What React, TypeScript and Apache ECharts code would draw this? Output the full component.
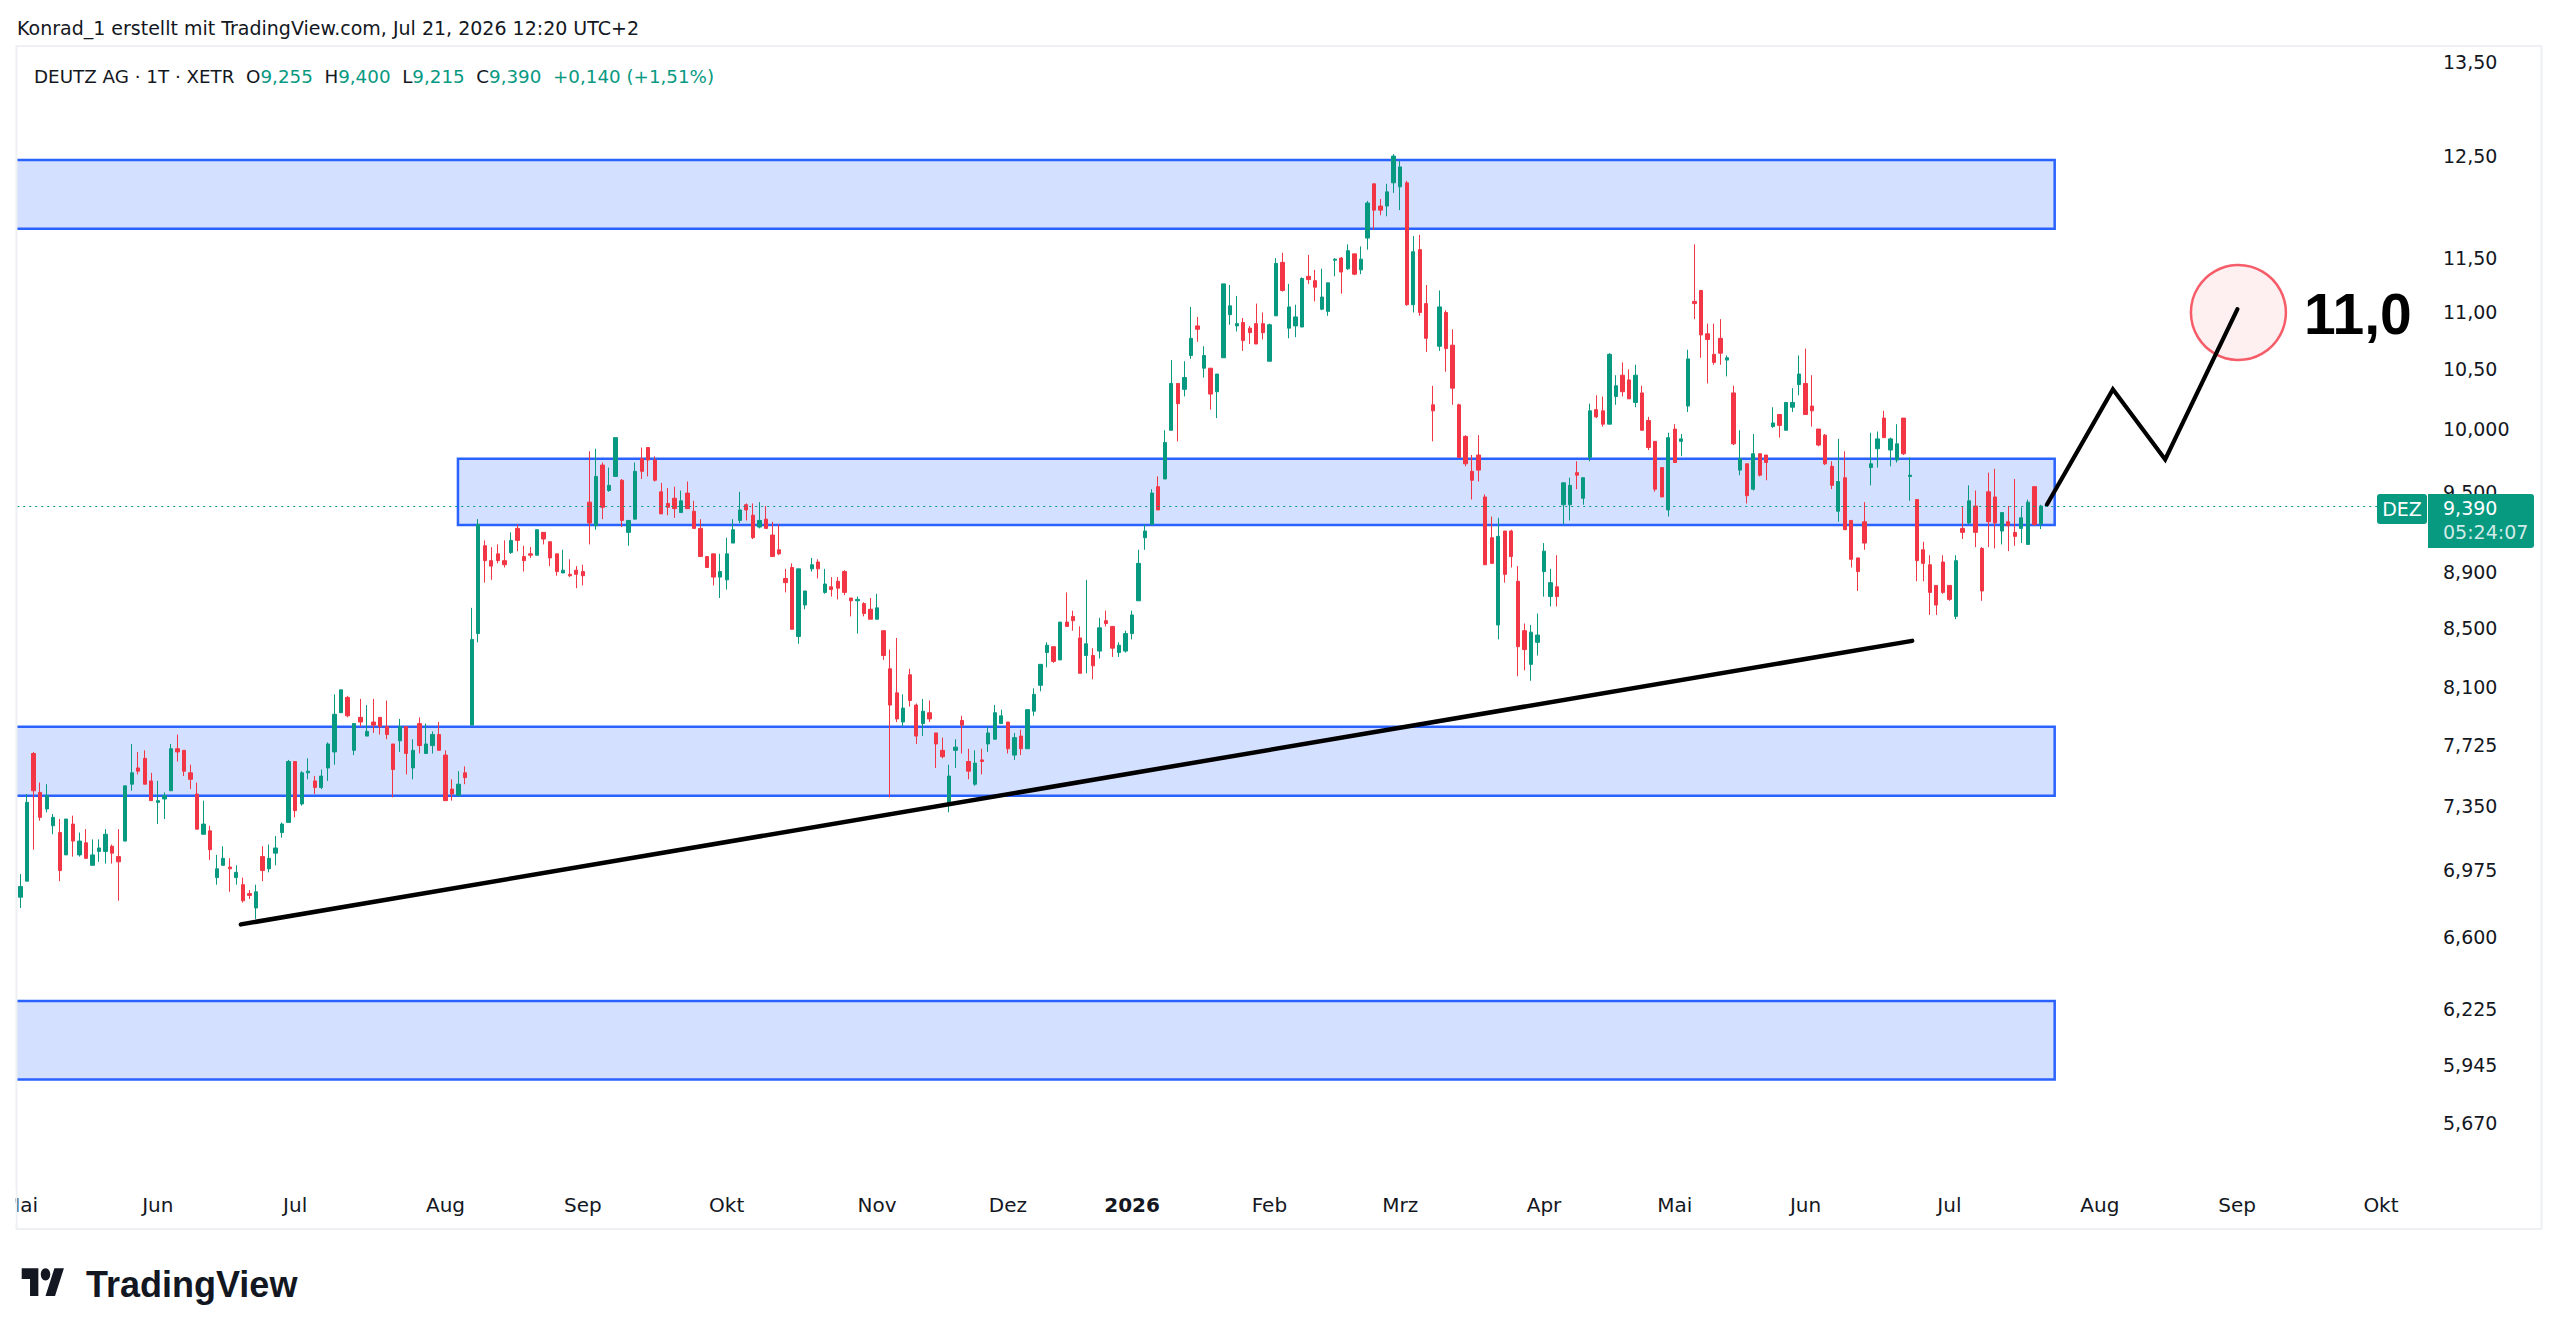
import React, { useEffect, useRef } from 'react';
import * as echarts from 'echarts';

// ---------- calendar (Xetra sessions) ----------
const firstSession = '2025-05-02';
const sessionCount = 369;
const holidays = ['2025-12-24', '2025-12-25', '2025-12-26', '2025-12-31', '2026-01-01', '2026-04-03', '2026-04-06', '2026-05-01'];
const monthNames = ['Jan', 'Feb', 'Mrz', 'Apr', 'Mai', 'Jun', 'Jul', 'Aug', 'Sep', 'Okt', 'Nov', 'Dez'];

// ---------- daily candles [open, high, low, close] ----------
const ohlcMayJul2025 = [
  [6.82, 6.95, 6.76, 6.88], [6.91, 7.42, 6.91, 7.37], [7.67, 7.68, 7.09, 7.44], [7.43, 7.49, 7.26, 7.28], [7.33, 7.48, 7.31, 7.41],
  [7.23, 7.30, 7.18, 7.28], [7.19, 7.27, 6.91, 6.97], [7.06, 7.27, 7.06, 7.27], [7.24, 7.29, 7.05, 7.14], [7.06, 7.19, 7.05, 7.14],
  [7.13, 7.21, 7.04, 7.04], [7.00, 7.15, 7.00, 7.06], [7.08, 7.15, 7.02, 7.10], [7.08, 7.21, 7.01, 7.18], [7.11, 7.12, 7.01, 7.07],
  [7.05, 7.21, 6.80, 7.02], [7.14, 7.47, 7.14, 7.47], [7.48, 7.73, 7.44, 7.55], [7.58, 7.68, 7.54, 7.56], [7.64, 7.69, 7.48, 7.48],
  [7.50, 7.55, 7.38, 7.38], [7.37, 7.50, 7.24, 7.38], [7.39, 7.43, 7.27, 7.41], [7.44, 7.73, 7.44, 7.70], [7.70, 7.79, 7.62, 7.68],
  [7.69, 7.69, 7.53, 7.56], [7.55, 7.60, 7.45, 7.51], [7.42, 7.49, 7.21, 7.21], [7.18, 7.38, 7.18, 7.24], [7.20, 7.23, 7.03, 7.09],
  [6.93, 7.06, 6.89, 6.98], [7.00, 7.11, 7.00, 7.04], [6.99, 7.04, 6.85, 6.98], [6.93, 7.00, 6.89, 6.96], [6.89, 6.93, 6.79, 6.80],
  [6.84, 6.86, 6.81, 6.83], [6.76, 6.89, 6.70, 6.85], [7.05, 7.11, 6.91, 6.97], [6.98, 7.12, 6.96, 7.04], [7.07, 7.17, 7.00, 7.10],
  [7.19, 7.25, 7.16, 7.24], [7.25, 7.63, 7.25, 7.62], [7.62, 7.62, 7.28, 7.32], [7.36, 7.56, 7.35, 7.55], [7.55, 7.64, 7.51, 7.56],
  [7.50, 7.53, 7.42, 7.46], [7.46, 7.57, 7.45, 7.53], [7.58, 7.74, 7.50, 7.73], [7.68, 8.05, 7.60, 7.92], [7.93, 8.08, 7.93, 8.08],
  [8.03, 8.04, 7.90, 7.91], [7.69, 7.86, 7.66, 7.86], [7.90, 8.02, 7.84, 7.87], [7.78, 7.98, 7.78, 7.81], [7.87, 8.02, 7.80, 7.85],
  [7.90, 7.90, 7.79, 7.84], [7.84, 8.01, 7.76, 7.79], [7.73, 7.73, 7.40, 7.57], [7.75, 7.89, 7.68, 7.84], [7.84, 7.84, 7.54, 7.67],
  [7.58, 7.76, 7.51, 7.69], [7.86, 7.90, 7.67, 7.72], [7.67, 7.86, 7.67, 7.73], [7.72, 7.81, 7.67, 7.79], [7.79, 7.87, 7.69, 7.69],
];
const ohlcAugOct2025 = [
  [7.66, 7.69, 7.38, 7.38], [7.45, 7.51, 7.38, 7.42], [7.41, 7.56, 7.41, 7.48], [7.55, 7.59, 7.48, 7.52], [7.85, 8.64, 7.85, 8.42],
  [8.46, 9.29, 8.40, 9.25], [9.09, 9.13, 8.82, 8.98], [8.98, 9.08, 8.84, 8.94], [9.03, 9.10, 8.96, 8.98], [8.98, 9.13, 8.93, 8.95],
  [9.04, 9.19, 9.03, 9.13], [9.22, 9.25, 9.05, 9.13], [9.01, 9.09, 8.90, 8.98], [9.03, 9.08, 9.00, 9.02], [9.02, 9.21, 9.02, 9.21],
  [9.19, 9.19, 9.10, 9.14], [9.12, 9.12, 8.94, 9.00], [9.03, 9.03, 8.87, 8.90], [8.89, 9.06, 8.89, 8.91], [8.88, 8.99, 8.86, 8.87],
  [8.91, 8.94, 8.78, 8.88], [8.90, 8.95, 8.80, 8.87], [9.42, 9.82, 9.10, 9.26], [9.24, 9.84, 9.21, 9.62], [9.71, 9.73, 9.29, 9.38],
  [9.51, 9.69, 9.50, 9.55], [9.62, 9.93, 9.62, 9.93], [9.59, 9.60, 9.23, 9.28], [9.19, 9.28, 9.09, 9.28], [9.29, 9.73, 9.29, 9.66],
  [9.76, 9.85, 9.60, 9.66], [9.85, 9.85, 9.62, 9.75], [9.75, 9.78, 9.58, 9.59], [9.50, 9.57, 9.33, 9.33], [9.41, 9.53, 9.32, 9.38],
  [9.45, 9.54, 9.30, 9.37], [9.34, 9.51, 9.34, 9.43], [9.49, 9.58, 9.37, 9.37], [9.35, 9.43, 9.22, 9.22], [9.22, 9.29, 9.01, 9.01],
  [9.01, 9.01, 8.93, 8.93], [9.03, 9.03, 8.80, 8.86], [8.86, 9.03, 8.71, 8.90], [8.84, 9.15, 8.77, 9.03], [9.11, 9.29, 9.11, 9.21],
  [9.28, 9.50, 9.26, 9.36], [9.40, 9.41, 9.28, 9.36], [9.32, 9.41, 9.14, 9.15], [9.23, 9.42, 9.22, 9.28], [9.29, 9.39, 9.22, 9.22],
  [9.17, 9.27, 9.01, 9.01], [9.06, 9.25, 9.02, 9.03], [8.85, 8.92, 8.75, 8.82], [8.93, 8.96, 8.49, 8.49], [8.44, 8.92, 8.39, 8.92],
  [8.66, 8.76, 8.63, 8.76], [8.92, 9.00, 8.90, 8.95], [8.97, 8.99, 8.85, 8.92], [8.75, 8.92, 8.74, 8.81], [8.79, 8.86, 8.72, 8.77],
  [8.83, 8.86, 8.70, 8.78], [8.90, 8.91, 8.73, 8.75], [8.71, 8.71, 8.58, 8.69], [8.69, 8.72, 8.46, 8.70], [8.67, 8.68, 8.58, 8.60],
  [8.63, 8.71, 8.56, 8.56],
];
const ohlcNovJan = [
  [8.56, 8.74, 8.56, 8.64], [8.48, 8.48, 8.28, 8.31], [8.22, 8.35, 7.40, 7.98], [8.06, 8.43, 7.87, 7.89], [7.87, 8.05, 7.84, 7.96],
  [8.18, 8.22, 7.97, 8.01], [7.98, 7.99, 7.73, 7.78], [7.86, 8.02, 7.78, 7.94], [7.93, 8.01, 7.87, 7.89], [7.80, 7.80, 7.58, 7.73],
  [7.69, 7.77, 7.64, 7.65], [7.36, 7.60, 7.31, 7.53], [7.69, 7.76, 7.58, 7.71], [7.88, 7.91, 7.67, 7.85], [7.62, 7.70, 7.51, 7.56],
  [7.48, 7.69, 7.47, 7.61], [7.63, 7.70, 7.54, 7.62], [7.73, 7.84, 7.68, 7.80], [7.76, 7.98, 7.76, 7.93], [7.86, 7.95, 7.86, 7.91],
  [7.87, 7.87, 7.67, 7.70], [7.66, 7.80, 7.63, 7.77], [7.78, 7.82, 7.66, 7.70], [7.70, 7.95, 7.70, 7.95], [7.94, 8.09, 7.91, 8.05],
  [8.11, 8.25, 8.07, 8.25], [8.33, 8.40, 8.23, 8.38], [8.37, 8.37, 8.26, 8.27], [8.28, 8.54, 8.28, 8.54], [8.54, 8.75, 8.51, 8.51],
  [8.58, 8.62, 8.48, 8.55], [8.43, 8.51, 8.19, 8.19], [8.31, 8.84, 8.19, 8.39], [8.31, 8.36, 8.15, 8.24], [8.34, 8.57, 8.29, 8.50],
  [8.55, 8.62, 8.51, 8.53], [8.51, 8.51, 8.30, 8.36], [8.33, 8.40, 8.30, 8.38], [8.34, 8.48, 8.33, 8.46], [8.46, 8.62, 8.42, 8.59],
  [8.69, 9.06, 8.69, 8.96], [9.15, 9.25, 9.06, 9.20], [9.25, 9.52, 9.25, 9.49], [9.54, 9.62, 9.36, 9.36], [9.60, 9.99, 9.60, 9.89],
  [9.99, 10.58, 9.99, 10.38], [10.38, 10.38, 9.90, 10.21], [10.33, 10.57, 10.27, 10.43], [10.62, 11.05, 10.59, 10.77], [10.88, 10.96, 10.74, 10.85],
  [10.51, 10.70, 10.43, 10.62], [10.51, 10.51, 10.16, 10.29], [10.31, 10.46, 10.09, 10.46], [10.60, 11.26, 10.60, 11.26], [10.98, 11.25, 10.89, 11.06],
  [10.88, 11.15, 10.83, 10.90], [10.91, 10.95, 10.66, 10.75], [10.86, 10.88, 10.72, 10.82], [10.90, 11.08, 10.72, 10.72], [10.90, 11.00, 10.76, 10.82],
];
const ohlcFebApr2026 = [
  [10.57, 10.90, 10.57, 10.89], [10.97, 11.50, 10.97, 11.45], [11.46, 11.55, 11.19, 11.20], [10.86, 11.26, 10.77, 11.05], [10.88, 11.07, 10.78, 10.96],
  [10.87, 11.32, 10.87, 11.31], [11.33, 11.53, 11.26, 11.30], [11.29, 11.39, 11.10, 11.23], [11.03, 11.40, 11.02, 11.14], [11.01, 11.27, 10.97, 11.27],
  [11.48, 11.50, 11.33, 11.49], [11.50, 11.51, 11.17, 11.37], [11.40, 11.63, 11.39, 11.57], [11.54, 11.54, 11.34, 11.35], [11.39, 11.61, 11.35, 11.49],
  [11.69, 12.05, 11.58, 12.03], [12.22, 12.22, 11.77, 11.96], [12.00, 12.07, 11.91, 11.96], [12.00, 12.22, 11.90, 12.14], [12.23, 12.52, 12.13, 12.50],
  [12.19, 12.45, 11.96, 12.39], [12.23, 12.25, 11.06, 11.07], [11.07, 11.71, 11.00, 11.56], [11.58, 11.72, 10.97, 11.00], [11.08, 11.25, 10.65, 10.77],
  [10.20, 10.36, 9.90, 10.15], [10.70, 11.20, 10.66, 11.05], [11.00, 11.02, 10.48, 10.68], [10.71, 10.85, 10.20, 10.34], [10.20, 10.21, 9.77, 9.77],
  [9.94, 9.95, 9.70, 9.72], [9.66, 9.79, 9.44, 9.59], [9.79, 9.95, 9.58, 9.67], [9.46, 9.48, 8.95, 8.95], [9.15, 9.31, 8.96, 8.96],
  [8.52, 9.30, 8.42, 9.16], [9.20, 9.20, 8.82, 8.88], [9.20, 9.21, 8.93, 9.01], [8.83, 8.94, 8.17, 8.37], [8.48, 8.53, 8.21, 8.35],
  [8.25, 8.52, 8.14, 8.47], [8.40, 8.60, 8.31, 8.45], [8.90, 9.11, 8.72, 9.05], [8.72, 8.92, 8.65, 8.82], [8.79, 9.02, 8.65, 8.72],
  [9.40, 9.57, 9.25, 9.57], [9.40, 9.61, 9.28, 9.55], [9.65, 9.74, 9.52, 9.63], [9.45, 9.61, 9.40, 9.61], [9.77, 10.21, 9.74, 10.15],
  [10.16, 10.28, 10.09, 10.10], [10.15, 10.27, 10.02, 10.04], [10.04, 10.64, 10.04, 10.63], [10.27, 10.45, 10.20, 10.36], [10.45, 10.56, 10.27, 10.31],
  [10.41, 10.50, 10.25, 10.25], [10.22, 10.54, 10.18, 10.45], [10.30, 10.36, 9.99, 9.99], [10.07, 10.10, 9.83, 9.85], [9.90, 9.90, 9.50, 9.52],
  [9.69, 9.69, 9.46, 9.46], [9.36, 9.97, 9.31, 9.93],
];
const ohlcMayJul2026 = [
  [10.00, 10.04, 9.73, 9.73], [9.90, 9.96, 9.78, 9.92], [10.19, 10.67, 10.14, 10.59], [11.10, 11.63, 10.94, 11.08], [11.20, 11.20, 10.60, 10.80],
  [10.81, 10.90, 10.38, 10.76], [10.63, 10.90, 10.54, 10.56], [10.77, 10.94, 10.54, 10.64], [10.58, 10.62, 10.44, 10.60], [10.30, 10.36, 9.87, 9.88],
  [9.67, 9.99, 9.63, 9.76], [9.72, 9.72, 9.41, 9.47], [9.52, 9.96, 9.51, 9.80], [9.80, 9.80, 9.62, 9.63], [9.79, 9.79, 9.59, 9.73],
  [10.02, 10.18, 10.01, 10.05], [10.12, 10.12, 9.93, 10.03], [9.99, 10.22, 9.99, 10.22], [10.18, 10.34, 10.14, 10.22], [10.37, 10.62, 10.28, 10.46],
  [10.38, 10.68, 10.12, 10.12], [10.19, 10.45, 10.02, 10.15], [10.00, 10.00, 9.86, 9.87], [9.95, 9.96, 9.71, 9.72], [9.70, 9.74, 9.52, 9.55],
  [9.35, 9.92, 9.27, 9.58], [9.61, 9.82, 9.21, 9.21], [9.28, 9.28, 8.93, 8.99], [9.00, 9.00, 8.76, 8.90], [9.27, 9.42, 9.06, 9.11],
  [9.69, 9.97, 9.55, 9.72], [9.84, 9.98, 9.69, 9.92], [10.09, 10.15, 9.93, 9.93], [9.83, 9.93, 9.70, 9.92], [9.75, 10.04, 9.73, 9.88],
  [10.09, 10.09, 9.79, 9.80], [9.62, 9.77, 9.43, 9.63], [9.44, 9.44, 8.83, 8.98], [9.06, 9.12, 8.83, 8.96], [8.95, 9.02, 8.59, 8.75],
  [8.80, 8.80, 8.59, 8.66], [8.97, 9.02, 8.74, 8.75], [8.80, 8.80, 8.69, 8.70], [8.58, 9.02, 8.56, 8.98], [9.22, 9.39, 9.14, 9.19],
  [9.26, 9.55, 9.25, 9.43], [9.39, 9.51, 9.08, 9.19], [9.07, 9.08, 8.69, 8.76], [9.50, 9.65, 9.08, 9.27], [9.46, 9.68, 9.07, 9.26],
  [9.20, 9.34, 9.10, 9.34], [9.27, 9.39, 9.05, 9.24], [9.19, 9.60, 9.09, 9.16], [9.22, 9.38, 9.11, 9.30], [9.10, 9.44, 9.10, 9.42],
  [9.54, 9.54, 9.24, 9.25], [9.255, 9.40, 9.215, 9.39],
];

// ---------- price scale ticks ----------
const priceTicks = [13.5, 12.5, 11.5, 11.0, 10.5, 10.0, 9.5, 8.9, 8.5, 8.1, 7.725, 7.35, 6.975, 6.6, 6.225, 5.945, 5.67];
const priceTickLabels = ['13,50', '12,50', '11,50', '11,00', '10,50', '10,000', '9,500', '8,900', '8,500', '8,100', '7,725', '7,350', '6,975', '6,600', '6,225', '5,945', '5,670'];

// ---------- drawings (session index, price) ----------
// zones: [fromSession, toSession, upperPrice, lowerPrice, extendsPastLeftEdge]
const zones = [
  [-6, 311.1, 12.46, 11.78, 1],
  [66.9, 311.1, 9.76, 9.246, 0],
  [-6, 311.1, 7.84, 7.41, 1],
  [-6, 311.1, 6.265, 5.875, 1],
];
const trendLine = [[33.7, 6.67], [289.3, 8.41]];
const projectionPath = [[309.9, 9.40], [320.0, 10.33], [328.0, 9.755], [339.05, 11.03]];
const targetPoint = [339.2, 11.0];
const targetLabel = '11,0';

const headerText = 'Konrad_1 erstellt mit TradingView.com, Jul 21, 2026 12:20 UTC+2';
const symbolTitle = 'DEUTZ AG · 1T · XETR';
const countdown = '05:24:07';
const exchangeTag = 'DEZ';

const GREEN = '#089981';
const RED = '#F23645';
const INK = '#131722';
const FONT = 'DejaVu Sans';
const TARGET_RADIUS = 47.5;

const TV_LOGO_PATH = 'M14 22H7V11H0V4h14v18zM28 22h-8l7.5-18h8L28 22z';
echarts.graphic.registerShape('tvlogo', echarts.graphic.extendPath(TV_LOGO_PATH, {}));

function buildSessions(): string[] {
  const out: string[] = [];
  const [y, m, d] = firstSession.split('-').map(Number);
  const dt = new Date(Date.UTC(y, m - 1, d));
  while (out.length < sessionCount) {
    const wd = dt.getUTCDay();
    const iso = dt.toISOString().slice(0, 10);
    if (wd !== 0 && wd !== 6 && holidays.indexOf(iso) < 0) out.push(iso);
    dt.setUTCDate(dt.getUTCDate() + 1);
  }
  return out;
}

const de = (v: number, digits: number) => v.toFixed(digits).replace('.', ',');

export default function App() {
  const ref = useRef<HTMLDivElement>(null);

  useEffect(() => {
    if (!ref.current) return;
    const chart = echarts.init(ref.current, undefined, { renderer: 'svg' });
    const sessions = buildSessions();
    const ohlc = [...ohlcMayJul2025, ...ohlcAugOct2025, ...ohlcNovJan, ...ohlcFebApr2026, ...ohlcMayJul2026];
    const candles = ohlc.map(([o, h, l, c]) => [o, c, l, h]);
    const last = ohlc[ohlc.length - 1];
    const prevClose = ohlc[ohlc.length - 2][3];
    const lastClose = last[3];
    const change = lastClose - prevClose;
    const pct = (change / prevClose) * 100;

    const option: any = {
      animation: false,
      backgroundColor: '#ffffff',
      textStyle: { fontFamily: FONT },
      grid: { left: 16, top: 35.1, width: 2414, height: 1149.9 },
      xAxis: [
        {
          type: 'category',
          data: sessions,
          boundaryGap: true,
          axisLine: { show: false },
          axisTick: { show: false },
          splitLine: { show: false },
          axisLabel: {
            interval: (i: number) => i === 0 || sessions[i].slice(0, 7) !== sessions[i - 1].slice(0, 7),
            formatter: (v: string) => {
              const m = Number(v.slice(5, 7)) - 1;
              return m === 0 ? `{y|${v.slice(0, 4)}}` : monthNames[m];
            },
            color: INK,
            fontSize: 20,
            fontFamily: FONT,
            margin: 10,
            rich: { y: { fontWeight: 'bold', fontSize: 20, fontFamily: FONT, color: INK } },
          },
        },
        { type: 'value', min: -0.5, max: sessionCount - 0.5, show: false },
      ],
      yAxis: [
        {
          type: 'log',
          logBase: 10,
          min: 5.39,
          max: 13.8,
          position: 'right',
          axisLine: { show: false },
          axisTick: { show: false },
          splitLine: { show: false },
          axisLabel: {
            customValues: priceTicks,
            formatter: (v: number) => {
              let best = 0;
              for (let i = 1; i < priceTicks.length; i++) {
                if (Math.abs(priceTicks[i] - v) < Math.abs(priceTicks[best] - v)) best = i;
              }
              return priceTickLabels[best];
            },
            color: INK,
            fontSize: 19,
            fontFamily: FONT,
            margin: 13,
            align: 'left',
          },
        },
      ],
      series: [
        {
          type: 'custom',
          name: 'zones',
          xAxisIndex: 1,
          yAxisIndex: 0,
          clip: true,
          silent: true,
          z: 1,
          encode: { x: [0, 1], y: [2, 3] },
          data: zones,
          renderItem: (params: any, api: any) => {
            const p0 = api.coord([api.value(0), api.value(2)]);
            const p1 = api.coord([api.value(1), api.value(3)]);
            const openLeft = api.value(4) === 1;
            const shape = { x: p0[0], y: p0[1], width: p1[0] - p0[0], height: p1[1] - p0[1] };
            const children: any[] = [
              { type: 'rect', shape, style: { fill: 'rgba(41,98,255,0.2)' } },
            ];
            if (openLeft) {
              children.push({
                type: 'polyline',
                shape: { points: [[p0[0], p0[1]], [p1[0], p0[1]], [p1[0], p1[1]], [p0[0], p1[1]]] },
                style: { stroke: '#2962FF', lineWidth: 2.5, fill: 'none' },
              });
            } else {
              children.push({ type: 'rect', shape, style: { fill: 'none', stroke: '#2962FF', lineWidth: 2.5 } });
            }
            return { type: 'group', children };
          },
        },
        {
          type: 'candlestick',
          name: 'DEUTZ AG',
          xAxisIndex: 0,
          yAxisIndex: 0,
          data: candles,
          barWidth: 3.8,
          z: 2,
          itemStyle: { color: GREEN, color0: RED, borderColor: GREEN, borderColor0: RED, borderWidth: 1 },
          markLine: {
            silent: true,
            symbol: ['none', 'none'],
            label: { show: false },
            lineStyle: { color: GREEN, type: [2, 4], width: 1 },
            data: [{ yAxis: lastClose }],
          },
        },
        {
          type: 'scatter',
          name: 'target',
          xAxisIndex: 1,
          yAxisIndex: 0,
          data: [targetPoint],
          symbol: 'circle',
          symbolSize: TARGET_RADIUS * 2,
          z: 2,
          silent: true,
          itemStyle: { color: 'rgba(242,54,69,0.1)', borderColor: RED, borderWidth: 2.5 },
        },
        {
          type: 'line',
          name: 'trend',
          xAxisIndex: 1,
          yAxisIndex: 0,
          data: trendLine,
          symbol: 'none',
          silent: true,
          z: 3,
          lineStyle: { color: '#000000', width: 4.5, cap: 'round' },
        },
        {
          type: 'line',
          name: 'projection',
          xAxisIndex: 1,
          yAxisIndex: 0,
          data: projectionPath,
          symbol: 'none',
          silent: true,
          z: 3,
          lineStyle: { color: '#000000', width: 4.2, cap: 'round', join: 'miter' },
        },
      ],
    };
    chart.setOption(option);

    const yPx = chart.convertToPixel({ yAxisIndex: 0 }, lastClose) as number;
    const targetPx = chart.convertToPixel({ xAxisIndex: 1, yAxisIndex: 0 }, targetPoint) as number[];
    const legendRich = {
      k: { fontSize: 18.3, fontFamily: FONT, fill: INK },
      g: { fontSize: 18.3, fontFamily: FONT, fill: GREEN },
    };
    const legendText =
      `{k|${symbolTitle}}  {k|O}{g|${de(last[0], 3)}}  {k|H}{g|${de(last[1], 3)}}  {k|L}{g|${de(last[2], 3)}}  ` +
      `{k|C}{g|${de(lastClose, 3)}}  {g|${change >= 0 ? '+' : ''}${de(change, 3)} (${change >= 0 ? '+' : ''}${de(pct, 2)}%)}`;

    chart.setOption({
      graphic: [
        {
          type: 'text', x: 17, y: 28, z: 100,
          style: { text: headerText, fill: INK, fontSize: 19, fontFamily: FONT, verticalAlign: 'middle' },
        },
        {
          type: 'rect', z: 90, silent: true,
          shape: { x: 16.5, y: 46, width: 2525, height: 1183 },
          style: { fill: 'none', stroke: '#EEF0F4', lineWidth: 2 },
        },
        {
          type: 'rect', z: 95, silent: true,
          shape: { x: 0, y: 1188, width: 15.5, height: 36 },
          style: { fill: '#ffffff' },
        },
        {
          type: 'text', x: 34, y: 76, z: 100,
          style: { text: legendText, rich: legendRich, fontSize: 18.3, fontFamily: FONT, fill: INK, verticalAlign: 'middle' },
        },
        {
          type: 'text', x: targetPx[0] + TARGET_RADIUS + 18, y: targetPx[1] + 2, z: 100,
          style: { text: targetLabel, fill: '#000000', fontSize: 57, fontWeight: 'bold', fontFamily: 'Liberation Sans', verticalAlign: 'middle' },
        },
        {
          type: 'rect', z: 100,
          shape: { x: 2377, y: yPx - 12, width: 50, height: 30, r: 3 },
          style: { fill: GREEN },
        },
        {
          type: 'text', x: 2402, y: yPx + 3, z: 101,
          style: { text: exchangeTag, fill: '#ffffff', fontSize: 19, fontFamily: FONT, align: 'center', verticalAlign: 'middle' },
        },
        {
          type: 'rect', z: 100,
          shape: { x: 2428, y: yPx - 12, width: 106, height: 54, r: [0, 3, 3, 0] },
          style: { fill: GREEN },
        },
        {
          type: 'text', x: 2443, y: yPx + 2, z: 101,
          style: { text: de(lastClose, 3), fill: '#ffffff', fontSize: 19, fontFamily: FONT, verticalAlign: 'middle' },
        },
        {
          type: 'text', x: 2443, y: yPx + 26, z: 101,
          style: { text: countdown, fill: 'rgba(255,255,255,0.82)', fontSize: 19, fontFamily: FONT, verticalAlign: 'middle' },
        },
        {
          type: 'group', x: 21.7, y: 1262, scaleX: 1.19, scaleY: 1.54, z: 100,
          children: [
            { type: 'tvlogo', style: { fill: INK } },
            { type: 'circle', shape: { cx: 20, cy: 8, r: 4 }, style: { fill: INK } },
          ],
        },
        {
          type: 'text', x: 86, y: 1284, z: 100,
          style: { text: 'TradingView', fill: INK, fontSize: 36, fontWeight: 'bold', fontFamily: 'Liberation Sans', verticalAlign: 'middle' },
        },
      ],
    });

    return () => chart.dispose();
  }, []);

  return (
    <div
      ref={ref}
      style={{ position: 'absolute', left: 0, top: 0, width: 2560, height: 1336, background: '#ffffff' }}
    />
  );
}
